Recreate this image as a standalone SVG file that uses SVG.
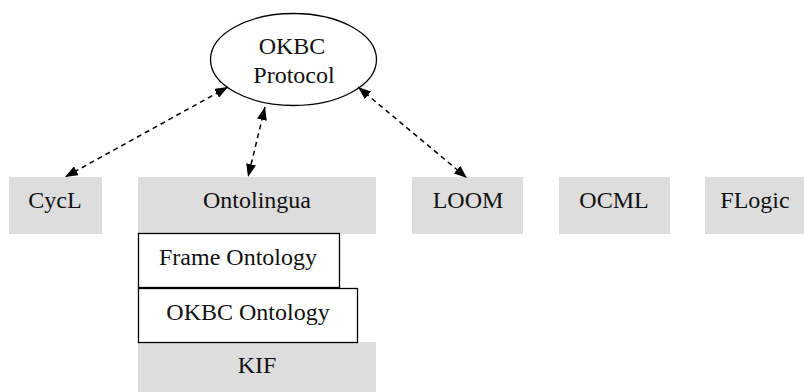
<svg xmlns="http://www.w3.org/2000/svg" width="804" height="392" viewBox="0 0 804 392">
<style>
.g{fill:#dddddd;stroke:none}
.w{fill:#ffffff;stroke:#000;stroke-width:1.3}
.t{font-family:"Liberation Serif","Times New Roman",serif;font-size:24px;fill:#111;text-anchor:middle}
.c{stroke:#000;stroke-width:1.5;stroke-dasharray:5 4;fill:none}
</style>
<defs>
<marker id="ah" viewBox="0 0 13 10" refX="13" refY="5" markerWidth="13" markerHeight="10" markerUnits="userSpaceOnUse" orient="auto-start-reverse">
<path d="M0,0 L13,5 L0,10 z" fill="#000"/>
</marker>
</defs>
<rect width="804" height="392" fill="#fff"/>
<g id="okbc-protocol">
<ellipse cx="293.5" cy="59.5" rx="83" ry="46" fill="#fff" stroke="#000" stroke-width="1.3"/>
<text class="t" x="292" y="54">OKBC</text>
<text class="t" x="294" y="83">Protocol</text>
</g>
<g id="cycl"><rect class="g" x="9" y="177" width="93" height="57"/><text class="t" x="55" y="208">CycL</text></g>
<g id="ontolingua"><rect class="g" x="138" y="177" width="238" height="57"/><text class="t" x="257" y="208">Ontolingua</text></g>
<g id="loom"><rect class="g" x="412" y="177" width="111" height="57"/><text class="t" x="468" y="208">LOOM</text></g>
<g id="ocml"><rect class="g" x="559" y="177" width="111" height="57"/><text class="t" x="614" y="208">OCML</text></g>
<g id="flogic"><rect class="g" x="705" y="177" width="99" height="57"/><text class="t" x="755" y="208">FLogic</text></g>
<g id="kif"><rect class="g" x="138" y="342" width="238" height="50"/><text class="t" x="257" y="373">KIF</text></g>
<g id="frame-ontology"><rect class="w" x="138.5" y="233.5" width="201" height="54"/><text class="t" x="238" y="265">Frame Ontology</text></g>
<g id="okbc-ontology"><rect class="w" x="138.5" y="288.5" width="219" height="54"/><text class="t" x="248" y="320">OKBC Ontology</text></g>
<g id="connectors">
<line class="c" x1="228" y1="87" x2="65" y2="177" marker-start="url(#ah)" marker-end="url(#ah)"/>
<line class="c" x1="265" y1="107" x2="248" y2="177" marker-start="url(#ah)" marker-end="url(#ah)"/>
<line class="c" x1="358" y1="87" x2="467" y2="178" marker-start="url(#ah)" marker-end="url(#ah)"/>
</g>
</svg>
